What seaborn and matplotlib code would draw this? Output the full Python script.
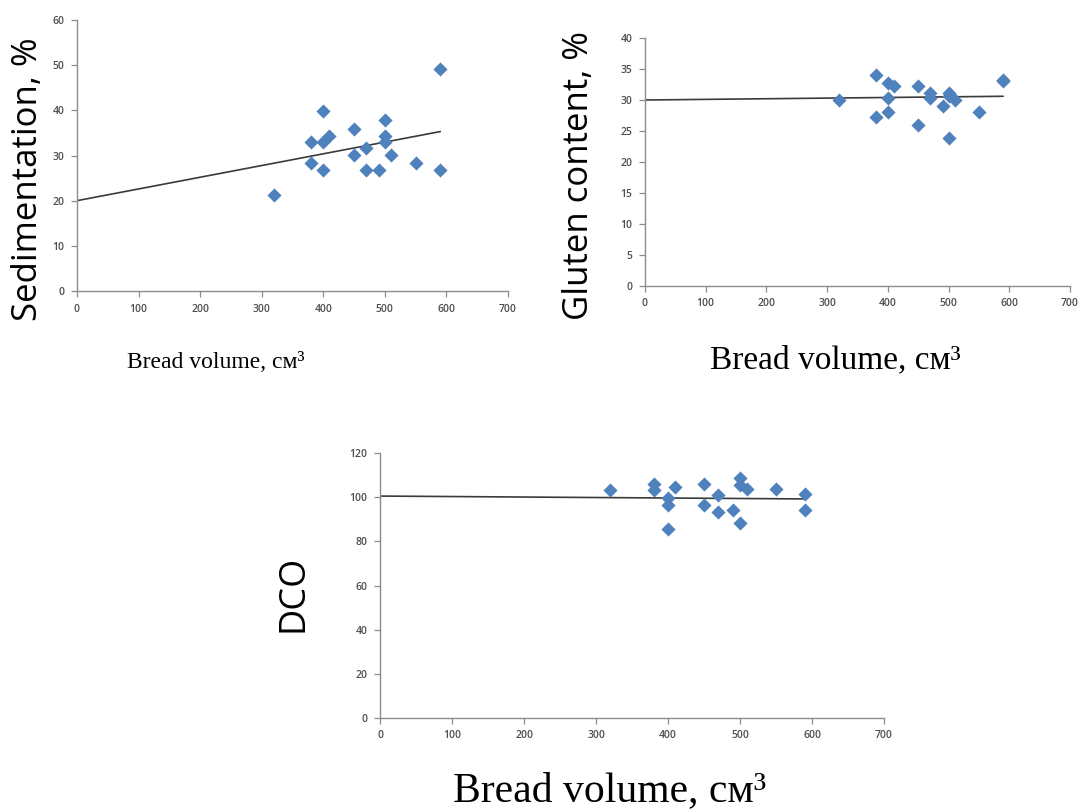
import matplotlib
matplotlib.use("Agg")
import matplotlib.pyplot as plt
import seaborn as sns

# ---- data ----
bread_volume = [320, 380, 380, 400, 400, 400, 410, 450, 450, 470, 470, 490, 500, 500, 500, 510, 550, 590, 590]
sedimentation = [21.2, 32.9, 28.4, 39.9, 32.9, 26.9, 34.4, 35.9, 30.1, 31.7, 26.9, 26.9, 37.9, 34.4, 33.0, 30.1, 28.4, 49.1, 26.9]
gluten = [30.0, 34.0, 27.2, 32.8, 30.3, 28.0, 32.2, 32.3, 25.9, 31.2, 30.3, 29.1, 31.2, 30.7, 23.9, 30.0, 28.0, 33.2, 33.0]
dco = [103.3, 105.8, 103.4, 99.5, 96.4, 85.5, 104.4, 105.8, 96.3, 101.2, 93.5, 94.0, 108.7, 105.7, 88.2, 103.7, 103.7, 101.6, 94.4]

# linear trend lines (values read at x = 0 and x = 590)
trend_x = [0, 590]
sed_trend = [20.0, 35.3]
gluten_trend = [30.0, 30.6]
dco_trend = [100.5, 99.2]

x_ticks = [0, 100, 200, 300, 400, 500, 600, 700]
sed_ticks = [0, 10, 20, 30, 40, 50, 60]
gluten_ticks = [0, 5, 10, 15, 20, 25, 30, 35, 40]
dco_ticks = [0, 20, 40, 60, 80, 100, 120]

y_titles = ["Sedimentation, %", "Gluten content, %", "DCO"]
x_title = "Bread volume, см³"

sns.set_theme(style="white")
plt.rcParams["font.family"] = ["Open Sans", "DejaVu Sans"]

W, H = 1084, 809
fig = plt.figure(figsize=(W / 100, H / 100), dpi=100)
fig.patch.set_facecolor("white")


def px_axes(x0, x1, ytop, ybot):
    return fig.add_axes([x0 / W, 1 - ybot / H, (x1 - x0) / W, (ybot - ytop) / H])


panels = [
    (px_axes(77, 508, 20, 291), sedimentation, sed_trend, sed_ticks),
    (px_axes(645, 1070, 38, 286), gluten, gluten_trend, gluten_ticks),
    (px_axes(380, 884, 453, 718), dco, dco_trend, dco_ticks),
]

MARK = "#4F81BD"
AXC = "#8C8C8C"
for ax, yvals, trend, yt in panels:
    sns.lineplot(x=trend_x, y=trend, ax=ax, color="#3a3a3a", linewidth=1.2)
    sns.scatterplot(x=bread_volume, y=yvals, ax=ax, marker="D", s=52,
                    color=MARK, linewidth=0, zorder=3)
    ax.set_xlim(x_ticks[0], x_ticks[-1])
    ax.set_ylim(yt[0], yt[-1])
    ax.set_xticks(x_ticks)
    ax.set_yticks(yt)
    ax.set_xlabel("")
    ax.set_ylabel("")
    for s in ["top", "right"]:
        ax.spines[s].set_visible(False)
    for s in ["left", "bottom"]:
        ax.spines[s].set_color(AXC)
        ax.spines[s].set_linewidth(1.0)
    ax.tick_params(axis="both", which="major", bottom=True, left=True,
                   direction="out", length=4, width=0.9, color=AXC,
                   labelsize=7.5, labelcolor="#4d4d4d", pad=5)
    for lab in ax.get_xticklabels() + ax.get_yticklabels():
        lab.set_fontweight("semibold")
    ax.set_facecolor("white")
    ax.grid(False)

# axis titles
fig.text(28 / W, 1 - 179 / H, y_titles[0], rotation=90, ha="center", va="center",
         fontsize=25, family=["Open Sans", "DejaVu Sans"], color="black")
fig.text(579 / W, 1 - 175 / H, y_titles[1], rotation=90, ha="center", va="center",
         fontsize=25, family=["Open Sans", "DejaVu Sans"], color="black")
fig.text(294 / W, 1 - 593 / H, y_titles[2], rotation=90, ha="center", va="center",
         fontsize=26, family=["Open Sans", "DejaVu Sans"], color="black")

fig.text(216 / W, 1 - 363 / H, x_title, ha="center", va="center",
         fontsize=17, family=["Liberation Serif", "DejaVu Serif"], color="black")
fig.text(835 / W, 1 - 360 / H, x_title, ha="center", va="center",
         fontsize=24, family=["Liberation Serif", "DejaVu Serif"], color="black")
fig.text(610 / W, 1 - 791 / H, x_title, ha="center", va="center",
         fontsize=30, family=["Liberation Serif", "DejaVu Serif"], color="black")

fig.savefig("out.png", dpi=100, facecolor="white")
